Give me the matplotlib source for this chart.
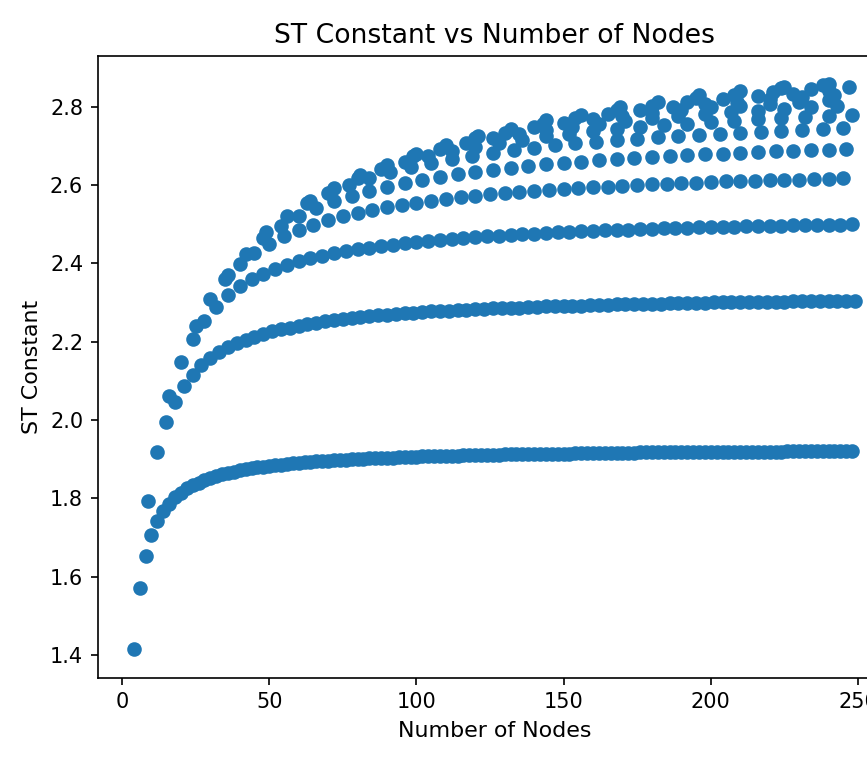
import numpy as np
import matplotlib
matplotlib.use("Agg")
import matplotlib.pyplot as plt

# ST constant of rectangular grids, grouped by the short side of the grid

nodes_2 = [4, 6, 8, 10, 12, 14, 16, 18, 20, 22, 24, 26, 28, 30, 32, 34, 36, 38, 40,
           42, 44, 46, 48, 50, 52, 54, 56, 58, 60, 62, 64, 66, 68, 70, 72, 74, 76, 78, 80,
           82, 84, 86, 88, 90, 92, 94, 96, 98, 100, 102, 104, 106, 108, 110, 112, 114, 116,
           118, 120, 122, 124, 126, 128, 130, 132, 134, 136, 138, 140, 142, 144, 146, 148,
           150, 152, 154, 156, 158, 160, 162, 164, 166, 168, 170, 172, 174, 176, 178, 180,
           182, 184, 186, 188, 190, 192, 194, 196, 198, 200, 202, 204, 206, 208, 210, 212,
           214, 216, 218, 220, 222, 224, 226, 228, 230, 232, 234, 236, 238, 240, 242, 244,
           246, 248]
stc_2 = [1.414, 1.570, 1.653, 1.705, 1.741, 1.767, 1.786, 1.802, 1.814, 1.825, 1.833,
         1.840, 1.847, 1.852, 1.857, 1.861, 1.865, 1.868, 1.871, 1.874, 1.877, 1.879,
         1.881, 1.883, 1.885, 1.886, 1.888, 1.889, 1.891, 1.892, 1.893, 1.894, 1.895,
         1.896, 1.897, 1.898, 1.899, 1.900, 1.900,
         1.901, 1.902, 1.902, 1.903, 1.904, 1.904, 1.905, 1.905, 1.906, 1.906, 1.907,
         1.907, 1.908, 1.908, 1.908, 1.909, 1.909, 1.910, 1.910, 1.910, 1.911, 1.911,
         1.911, 1.911, 1.912, 1.912, 1.912, 1.913, 1.913, 1.913, 1.913, 1.913, 1.914,
         1.914, 1.914, 1.914, 1.915, 1.915, 1.915, 1.915,
         1.915, 1.915, 1.916, 1.916, 1.916, 1.916, 1.916, 1.917, 1.917, 1.917, 1.917,
         1.917, 1.917, 1.917, 1.917, 1.918, 1.918, 1.918, 1.918, 1.918, 1.918, 1.918,
         1.918, 1.919, 1.919, 1.919, 1.919, 1.919, 1.919, 1.919, 1.919, 1.919, 1.920,
         1.920, 1.920, 1.920, 1.920, 1.920, 1.920, 1.920, 1.920, 1.920, 1.920, 1.920]

nodes_3 = [9, 12, 15, 18, 21, 24, 27, 30, 33, 36, 39, 42, 45, 48, 51, 54, 57, 60, 63,
           66, 69, 72, 75, 78, 81, 84, 87, 90, 93, 96, 99, 102, 105, 108, 111, 114, 117,
           120, 123, 126, 129, 132, 135, 138, 141, 144, 147, 150, 153, 156, 159, 162, 165,
           168, 171, 174, 177, 180, 183, 186, 189, 192, 195, 198, 201, 204, 207, 210, 213,
           216, 219, 222, 225, 228, 231, 234, 237, 240, 243, 246, 249]
stc_3 = [1.792, 1.917, 1.994, 2.046, 2.087, 2.115, 2.140, 2.158, 2.173, 2.186, 2.196,
         2.205, 2.213, 2.220, 2.226, 2.232, 2.236, 2.241, 2.245, 2.248, 2.252, 2.255,
         2.258, 2.260, 2.262, 2.265, 2.267, 2.269, 2.270, 2.272, 2.274, 2.275, 2.277,
         2.278, 2.279, 2.280, 2.282, 2.283, 2.284, 2.285, 2.286, 2.287, 2.287, 2.288,
         2.289, 2.290, 2.290, 2.291, 2.292, 2.292, 2.293, 2.294, 2.294, 2.295, 2.295,
         2.296, 2.296, 2.297, 2.297, 2.298, 2.298, 2.299, 2.299, 2.299, 2.300, 2.300,
         2.300, 2.301, 2.301, 2.301, 2.302, 2.302, 2.302, 2.303, 2.303, 2.303, 2.303,
         2.304, 2.304, 2.304, 2.305]

nodes_4 = [16, 20, 24, 28, 32, 36, 40, 44, 48, 52, 56, 60, 64, 68, 72, 76, 80, 84, 88,
           92, 96, 100, 104, 108, 112, 116, 120, 124, 128, 132, 136, 140, 144, 148, 152,
           156, 160, 164, 168, 172, 176, 180, 184, 188, 192, 196, 200, 204, 208, 212, 216,
           220, 224, 228, 232, 236, 240, 244, 248]
stc_4 = [2.060, 2.148, 2.208, 2.253, 2.288, 2.318, 2.342, 2.359, 2.373, 2.385, 2.396,
         2.405, 2.413, 2.419, 2.426, 2.431, 2.436, 2.440, 2.445, 2.448, 2.452, 2.455,
         2.458, 2.460, 2.463, 2.465, 2.467, 2.469, 2.471, 2.473, 2.475, 2.476, 2.478,
         2.479, 2.481, 2.482, 2.483, 2.484, 2.485, 2.486, 2.487, 2.488, 2.489, 2.490,
         2.491, 2.492, 2.492, 2.493, 2.494, 2.495, 2.495, 2.496, 2.496, 2.497, 2.498,
         2.498, 2.499, 2.499, 2.500]

nodes_5 = [25, 30, 35, 40, 45, 50, 55, 60, 65, 70, 75, 80, 85, 90, 95, 100, 105, 110,
           115, 120, 125, 130, 135, 140, 145, 150, 155, 160, 165, 170, 175, 180, 185, 190,
           195, 200, 205, 210, 215, 220, 225, 230, 235, 240, 245]
stc_5 = [2.240, 2.310, 2.360, 2.398, 2.427, 2.450, 2.469, 2.485, 2.498, 2.510, 2.520,
         2.529, 2.536, 2.543, 2.549, 2.555, 2.560, 2.565, 2.569, 2.572, 2.576, 2.579,
         2.582, 2.585, 2.588, 2.590, 2.592, 2.594, 2.596, 2.598, 2.600, 2.602, 2.603,
         2.605, 2.606, 2.607, 2.609, 2.610, 2.611, 2.612, 2.613, 2.614, 2.615, 2.616,
         2.617]

nodes_6 = [36, 42, 48, 54, 60, 66, 72, 78, 84, 90, 96, 102, 108, 114, 120, 126, 132,
           138, 144, 150, 156, 162, 168, 174, 180, 186, 192, 198, 204, 210, 216, 222, 228,
           234, 240, 246]
stc_6 = [2.370, 2.424, 2.464, 2.496, 2.521, 2.541, 2.558, 2.573, 2.585, 2.596, 2.606,
         2.614, 2.621, 2.628, 2.634, 2.639, 2.644, 2.649, 2.653, 2.657, 2.660, 2.663,
         2.666, 2.669, 2.672, 2.674, 2.676, 2.678, 2.680, 2.682, 2.684, 2.686, 2.687,
         2.689, 2.690, 2.692]

nodes_7 = [49, 56, 63, 70, 77, 84, 91, 98, 105, 112, 119, 126, 133, 140, 147, 154, 161,
           168, 175, 182, 189, 196, 203, 210, 217, 224, 231, 238, 245]
stc_7 = [2.480, 2.521, 2.553, 2.579, 2.600, 2.618, 2.633, 2.645, 2.656, 2.666, 2.675,
         2.682, 2.689, 2.695, 2.701, 2.706, 2.710, 2.714, 2.718, 2.722, 2.725, 2.728,
         2.731, 2.734, 2.736, 2.739, 2.741, 2.743, 2.745]

nodes_8 = [64, 72, 80, 88, 96, 104, 112, 120, 128, 136, 144, 152, 160, 168, 176, 184,
           192, 200, 208, 216, 224, 232, 240, 248]
stc_8 = [2.560, 2.593, 2.619, 2.640, 2.658, 2.673, 2.686, 2.698, 2.707, 2.716, 2.724,
         2.731, 2.737, 2.743, 2.748, 2.752, 2.757, 2.761, 2.764, 2.768, 2.771, 2.774,
         2.776, 2.779]

nodes_9 = [81, 90, 99, 108, 117, 126, 135, 144, 153, 162, 171, 180, 189, 198, 207, 216,
           225, 234, 243]
stc_9 = [2.625, 2.651, 2.673, 2.691, 2.706, 2.719, 2.731, 2.741, 2.749, 2.757, 2.764,
         2.770, 2.776, 2.781, 2.786, 2.790, 2.794, 2.798, 2.801]

nodes_10 = [100, 110, 120, 130, 140, 150, 160, 170, 180, 190, 200, 210, 220, 230, 240]
stc_10 = [2.680, 2.701, 2.719, 2.734, 2.747, 2.758, 2.768, 2.777, 2.784, 2.791, 2.798,
          2.803, 2.808, 2.813, 2.817]

nodes_11 = [121, 132, 143, 154, 165, 176, 187, 198, 209, 220, 231, 242]
stc_11 = [2.725, 2.743, 2.757, 2.770, 2.781, 2.791, 2.799, 2.807, 2.813, 2.820, 2.825,
          2.830]

nodes_12 = [144, 156, 168, 180, 192, 204, 216, 228, 240]
stc_12 = [2.765, 2.779, 2.791, 2.802, 2.811, 2.819, 2.827, 2.833, 2.839]

nodes_13 = [169, 182, 195, 208, 221, 234, 247]
stc_13 = [2.800, 2.812, 2.822, 2.831, 2.838, 2.845, 2.851]

nodes_14 = [196, 210, 224, 238]
stc_14 = [2.830, 2.840, 2.848, 2.856]

nodes_15 = [225, 240]
stc_15 = [2.850, 2.858]

all_nodes = [nodes_2, nodes_3, nodes_4, nodes_5, nodes_6, nodes_7, nodes_8,
             nodes_9, nodes_10, nodes_11, nodes_12, nodes_13, nodes_14, nodes_15]
all_stc = [stc_2, stc_3, stc_4, stc_5, stc_6, stc_7, stc_8,
           stc_9, stc_10, stc_11, stc_12, stc_13, stc_14, stc_15]

for n, s in zip(all_nodes, all_stc):
    assert len(n) == len(s), (n[0], len(n), len(s))

x = np.concatenate([np.array(n) for n in all_nodes])
y = np.concatenate([np.array(s) for s in all_stc])

fig = plt.figure(figsize=(867 / 150, 763 / 150), dpi=150)
# the original screenshot cuts the axes off on the right
ax = fig.add_axes([0.1127, 0.1118, 0.9151, 0.8152])

ax.scatter(x, y)

ax.set_title('ST Constant vs Number of Nodes', fontsize=12.8)
ax.set_xlabel('Number of Nodes', fontsize=10.6)
ax.set_ylabel('ST Constant', fontsize=10.6)

fig.savefig('out.png', dpi=150)
